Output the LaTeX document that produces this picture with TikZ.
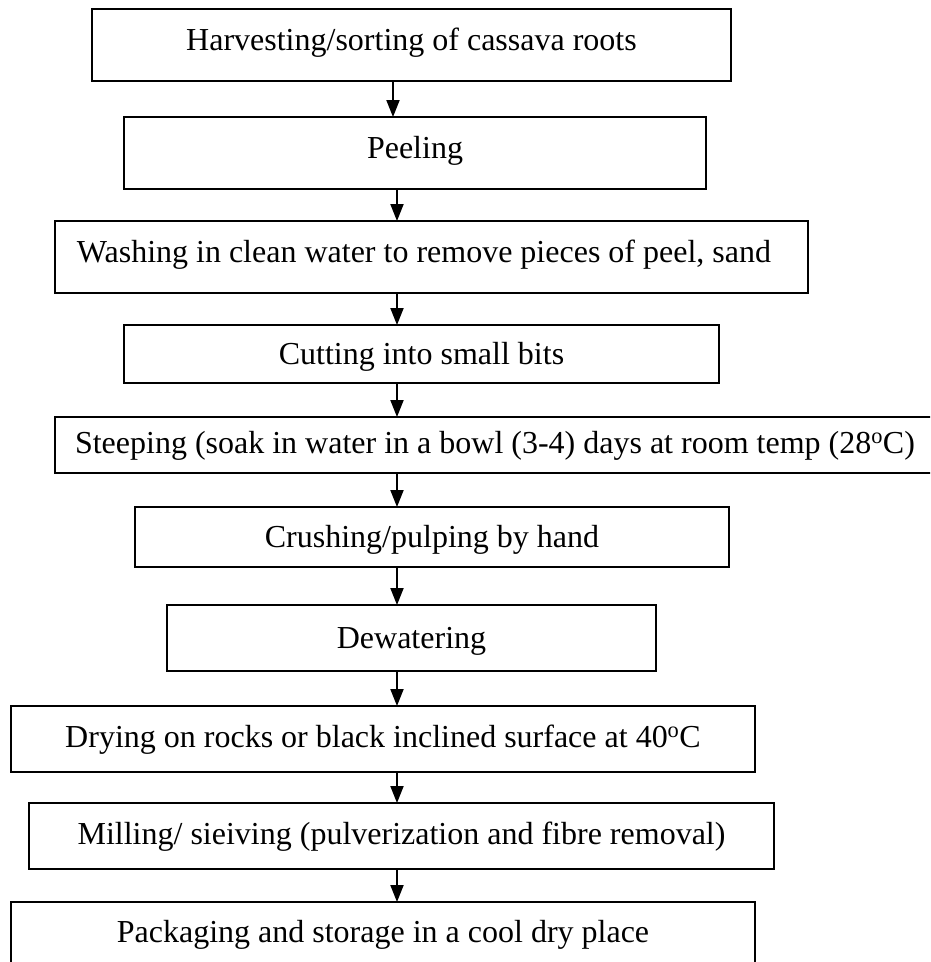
\documentclass[tikz,border=0pt]{standalone}
\usepackage{fontspec}
\setmainfont{Liberation Serif}
\usetikzlibrary{arrows.meta}

\begin{document}
\begin{tikzpicture}[x=1pt,y=-1pt,
    stage/.style={draw,line width=2pt,rectangle,inner sep=0pt,outer sep=0pt,
      font=\fontsize{32}{38}\selectfont,text height=21pt,text depth=5pt},
    flow/.style={line width=2pt,-{Triangle[length=17pt,width=13pt]}}]
  % Fix the page and cut off what runs past it
  \useasboundingbox (0,0) rectangle (930,962);
  \clip (0,0) rectangle (930,962);

  % Draw the stages
  \node[stage,text depth=11pt,minimum width=639pt,minimum height=72pt] (harvest) at (411.5,45) {Harvesting/sorting of cassava roots};
  \node[stage,text depth=11pt,minimum width=582pt,minimum height=72pt] (peel) at (415,153) {Peeling};
  \node[stage,text depth=11pt,minimum width=753pt,minimum height=72pt] (wash) at (431.5,257) {\hspace*{-15pt}Washing in clean water to remove pieces of peel, sand};
  \node[stage,text depth=0pt,minimum width=595pt,minimum height=58pt] (cut) at (421.5,354) {Cutting into small bits};
  \node[stage,minimum width=880pt,minimum height=56pt] (steep) at (495,445) {Steeping (soak in water in a bowl (3-4) days at room temp (28\textsuperscript{o}C)};
  \node[stage,text depth=0pt,minimum width=594pt,minimum height=60pt] (crush) at (432,537) {Crushing/pulping by hand};
  \node[stage,text depth=0pt,minimum width=489pt,minimum height=66pt] (dewater) at (411.5,638) {Dewatering};
  \node[stage,minimum width=744pt,minimum height=66pt] (dry) at (383,739) {Drying on rocks or black inclined surface at 40\textsuperscript{o}C};
  \node[stage,minimum width=745pt,minimum height=66pt] (mill) at (401.5,836) {Milling/ sieiving (pulverization and fibre removal)};
  \node[stage,minimum width=744pt,minimum height=64pt] (pack) at (383,934) {Packaging and storage in a cool dry place};

  % Draw the arrows down the middle
  \coordinate (spine) at (397,0);
  \draw[flow] ([xshift=-4pt]harvest.south -| spine) -- ([xshift=-4pt]peel.north -| spine);
  \foreach \a/\b in {peel/wash,wash/cut,cut/steep,steep/crush,crush/dewater,dewater/dry,dry/mill,mill/pack}
    \draw[flow] (\a.south -| spine) -- (\b.north -| spine);
\end{tikzpicture}
\end{document}
